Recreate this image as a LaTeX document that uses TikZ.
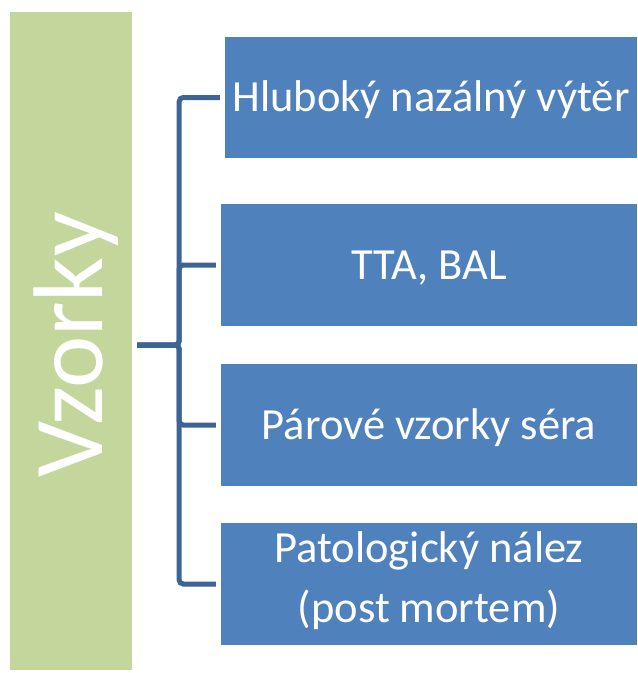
\documentclass[tikz,border=0pt]{standalone}
\usepackage{fontspec}
\setmainfont{Carlito}
\usepackage{graphicx}
\usepackage{xcolor}
\definecolor{vzgreen}{HTML}{C3D69B}
\definecolor{vzblue}{HTML}{4F81BD}
\definecolor{vzline}{HTML}{3C6496}

\begin{document}
\begin{tikzpicture}[x=1pt, y=-1pt,
  root/.style={rectangle, fill=vzgreen, inner sep=0pt, minimum width=122, minimum height=658,
    text=white, font=\fontsize{99}{110}\selectfont},
  leaf/.style={rectangle, fill=vzblue, inner sep=0pt, minimum height=122,
    text=white, font=\fontsize{44.5}{60}\selectfont, text height=28.7pt, text depth=0pt},
  conn/.style={vzline, line width=5pt, rounded corners=4pt}
]
\useasboundingbox (0,0) rectangle (638,673);
% ── Sample type (left bar) ───────────────────────
\node[root] (root) at (71,341)
  {\rotatebox{90}{\raisebox{0pt}[63.8pt][0pt]{Vzorky\hspace{8pt}}}};
% ── Sample boxes ─────────────────────────────────
\node[leaf, minimum width=412, minimum height=121] (nasal) at (431,97.5) {Hluboký nazálný výtěr};
\node[leaf, minimum width=416] (tta) at (429,265) {TTA, BAL};
\node[leaf, minimum width=416] (sera) at (429,425) {Párové vzorky séra};
\node[leaf, minimum width=416, align=center, text height=76pt] (pato) at (429,584)
  {Patologický nález\\(post mortem)};
% ── Elbow connectors ─────────────────────────────
\foreach \b in {nasal,tta,sera,pato} {
  \draw[conn] ([shift={(5,4)}]root.east) -- ++(42,0) |- ([xshift=-5]\b.west);
}
\end{tikzpicture}
\end{document}
